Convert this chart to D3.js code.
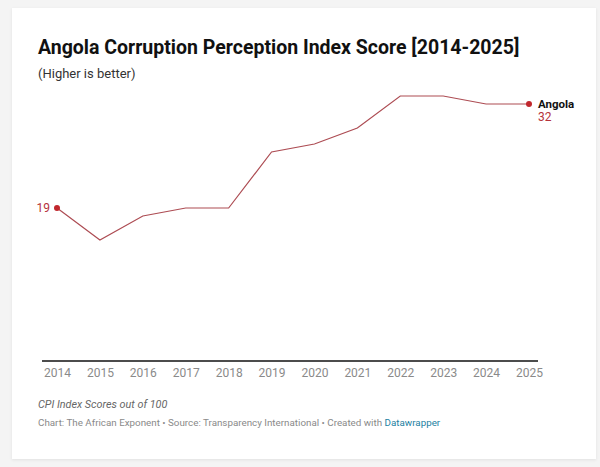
<!DOCTYPE html>
<html>
<head>
    <meta charset="UTF-8">
    <title>Angola CPI</title>
    <style>
        body {
            margin: 0;
            padding: 0;
            background-color: #f4f4f4;
            font-family: Roboto, Arial, sans-serif;
        }
        #chart {
            position: absolute;
            left: 0;
            top: 0;
        }
    </style>
    <script src="https://d3js.org/d3.v7.min.js"></script>
</head>
<body>
    <div id="chart"></div>
    <script>
        // data
        var years = [2014, 2015, 2016, 2017, 2018, 2019, 2020, 2021, 2022, 2023, 2024, 2025];
        var scores = [19, 15, 18, 19, 19, 26, 27, 29, 33, 33, 32, 32];
        var seriesName = "Angola";

        var width = 600, height = 467;

        var svg = d3.select("#chart").append("svg")
            .attr("width", width)
            .attr("height", height);

        // card with a soft shadow
        var defs = svg.append("defs");
        var f = defs.append("filter").attr("id", "shadow")
            .attr("x", "-5%").attr("y", "-5%").attr("width", "110%").attr("height", "110%");
        f.append("feDropShadow").attr("dx", 0).attr("dy", 1).attr("stdDeviation", 1.5)
            .attr("flood-color", "#000").attr("flood-opacity", 0.08);

        svg.append("rect")
            .attr("x", 12).attr("y", 8)
            .attr("width", 584).attr("height", 451)
            .attr("fill", "#fff")
            .attr("filter", "url(#shadow)");

        // titles
        svg.append("text")
            .attr("x", 38).attr("y", 54)
            .attr("font-size", 19.5).attr("font-weight", 700)
            .attr("fill", "#111")
            .text("Angola Corruption Perception Index Score [2014-2025]");

        svg.append("text")
            .attr("x", 38).attr("y", 78)
            .attr("font-size", 13)
            .attr("fill", "#333")
            .text("(Higher is better)");

        // scales
        var x = d3.scalePoint()
            .domain(years)
            .range([57, 529]);

        var y = d3.scaleLinear()
            .domain([0, 33])
            .range([360, 96]);

        // baseline + year labels
        var xAxis = d3.axisBottom(x).tickSize(0).tickPadding(8);
        var gx = svg.append("g")
            .attr("transform", "translate(0," + y(0) + ")")
            .call(xAxis);
        gx.select(".domain").remove();
        gx.append("line")
            .attr("x1", 42).attr("x2", 538)
            .attr("y1", 1).attr("y2", 1)
            .attr("stroke", "#111").attr("stroke-width", 1.4);
        gx.selectAll(".tick text")
            .attr("font-family", "Roboto, Arial, sans-serif")
            .attr("font-size", 12)
            .attr("fill", "#8a8a8a");

        // line
        var data = years.map(function (d, i) { return {year: d, value: scores[i]}; });

        var line = d3.line()
            .x(function (d) { return x(d.year); })
            .y(function (d) { return y(d.value); });

        svg.append("path")
            .datum(data)
            .attr("d", line)
            .attr("fill", "none")
            .attr("stroke", "#ad4c53")
            .attr("stroke-width", 1.2);

        // end dots
        var ends = [data[0], data[data.length - 1]];
        svg.selectAll("circle.end")
            .data(ends)
            .enter().append("circle")
            .attr("class", "end")
            .attr("cx", function (d) { return x(d.year); })
            .attr("cy", function (d) { return y(d.value); })
            .attr("r", 3)
            .attr("fill", "#c1272d");

        // start value label
        svg.append("text")
            .attr("x", x(data[0].year) - 7)
            .attr("y", y(data[0].value))
            .attr("dy", "0.35em")
            .attr("text-anchor", "end")
            .attr("font-size", 12)
            .attr("fill", "#b5323a")
            .text(data[0].value);

        // end series label
        var last = data[data.length - 1];
        svg.append("text")
            .attr("x", x(last.year) + 9)
            .attr("y", y(last.value))
            .attr("dy", "0.35em")
            .attr("font-size", 11.5)
            .attr("font-weight", 700)
            .attr("fill", "#111")
            .text(seriesName);
        svg.append("text")
            .attr("x", x(last.year) + 9)
            .attr("y", y(last.value) + 13)
            .attr("dy", "0.35em")
            .attr("font-size", 12)
            .attr("fill", "#b5323a")
            .text(last.value);

        // notes
        svg.append("text")
            .attr("x", 38).attr("y", 408)
            .attr("font-size", 10.8)
            .attr("font-style", "italic")
            .attr("fill", "#666")
            .text("CPI Index Scores out of 100");

        var src = svg.append("text")
            .attr("x", 38).attr("y", 426)
            .attr("font-size", 9.8)
            .attr("fill", "#8a8a8a");
        src.append("tspan").text("Chart: The African Exponent \u2022 Source: Transparency International \u2022 Created with ");
        src.append("tspan").attr("fill", "#1d81a2").text("Datawrapper");
    </script>
</body>
</html>
